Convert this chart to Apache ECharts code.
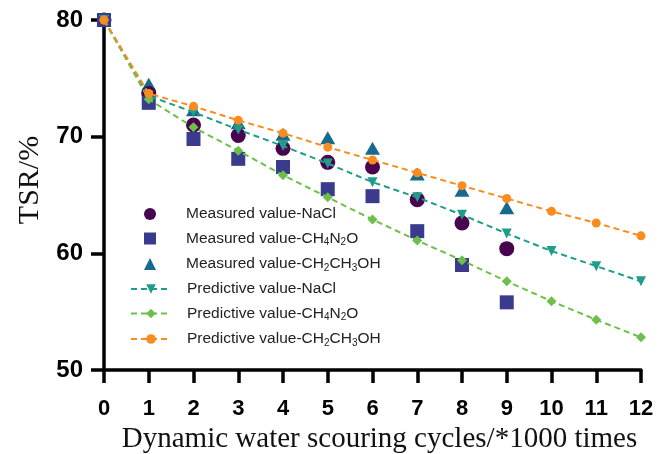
<!DOCTYPE html>
<html>
<head>
<meta charset="utf-8">
<script src="https://cdn.jsdelivr.net/npm/echarts@6/dist/echarts.min.js"></script>
<style>
  html, body { margin: 0; padding: 0; background: #fff; }
  #main { width: 670px; height: 454px; }
</style>
</head>
<body>
<div id="main"></div>
<script>
// cycles (*1000 times)
var cycles = [0, 1, 2, 3, 4, 5, 6, 7, 8, 9, 10, 11, 12];
var measuredCycles = [0, 1, 2, 3, 4, 5, 6, 7, 8, 9];

// measured TSR/%
var measNaCl   = [80, 73.7, 71.0, 70.1, 69.0, 67.8, 67.4, 64.6, 62.6, 60.4];
var measUrea   = [80, 72.9, 69.8, 68.1, 67.4, 65.5, 64.9, 61.9, 59.0, 55.8];
var measEthOH  = [80, 74.5, 72.3, 71.2, 70.2, 69.9, 69.0, 66.8, 65.4, 63.9];

// predictive TSR/%
var predNaCl   = [80, 73.5, 72.1, 70.6, 69.2, 67.7, 66.1, 64.8, 63.3, 61.7, 60.2, 58.9, 57.6];
var predUrea   = [80, 73.2, 70.8, 68.8, 66.7, 64.8, 62.9, 61.1, 59.4, 57.6, 55.9, 54.3, 52.8];
var predEthOH  = [80, 73.7, 72.6, 71.4, 70.3, 69.1, 68.0, 66.9, 65.8, 64.7, 63.6, 62.6, 61.5];

var yTicks = [50, 60, 70, 80];

function pairs(xs, ys) {
  return xs.map(function (x, i) { return [x, ys[i]]; });
}

// legend labels with subscripts
var labelMap = {
  'Measured value-NaCl': '{t|Measured value-NaCl}',
  'Measured value-CH4N2O': '{t|Measured value-CH}{s|4}{t|N}{s|2}{t|O}',
  'Measured value-CH2CH3OH': '{t|Measured value-CH}{s|2}{t|CH}{s|3}{t|OH}',
  'Predictive value-NaCl': '{t|Predictive value-NaCl}',
  'Predictive value-CH4N2O': '{t|Predictive value-CH}{s|4}{t|N}{s|2}{t|O}',
  'Predictive value-CH2CH3OH': '{t|Predictive value-CH}{s|2}{t|CH}{s|3}{t|OH}'
};

var legendRich = {
  t: { fontFamily: 'Liberation Sans, Arial', fontSize: 15.5, color: '#222' },
  s: { fontFamily: 'Liberation Sans, Arial', fontSize: 10, color: '#222', padding: [8, 0, 0, 0] }
};

var chart = echarts.init(document.getElementById('main'));

var axisStyle = {
  axisLine: { show: true, lineStyle: { color: '#000', width: 3.5 } },
  axisTick: { show: true, length: 13, lineStyle: { color: '#000', width: 3.5 } },
  splitLine: { show: false }
};

var option = {
  animation: false,
  backgroundColor: '#fff',
  grid: { left: 104, right: 29, top: 20, bottom: 84, outerBoundsMode: 'none' },
  legend: [
    {
      orient: 'vertical',
      left: 139,
      top: 201,
      itemGap: 8.5,
      itemWidth: 12,
      itemHeight: 12,
      data: ['Measured value-NaCl', 'Measured value-CH4N2O', 'Measured value-CH2CH3OH'],
      formatter: function (name) { return labelMap[name]; },
      textStyle: { padding: [0, 0, 0, 25], rich: legendRich }
    },
    {
      orient: 'vertical',
      left: 125,
      top: 276,
      itemGap: 8.5,
      itemWidth: 40,
      itemHeight: 12,
      data: ['Predictive value-NaCl', 'Predictive value-CH4N2O', 'Predictive value-CH2CH3OH'],
      formatter: function (name) { return labelMap[name]; },
      textStyle: { padding: [0, 0, 0, 11], rich: legendRich }
    }
  ],
  xAxis: Object.assign({
    type: 'value',
    min: 0,
    max: 12,
    interval: 1,
    name: 'Dynamic water scouring cycles/*1000 times',
    nameLocation: 'middle',
    nameGap: 55,
    nameTextStyle: {
      fontFamily: 'Liberation Serif, Times New Roman', fontSize: 29, color: '#111',
      padding: [0, 0, 0, 14]
    },
    axisLabel: {
      margin: 28,
      fontFamily: 'Liberation Sans, Arial',
      fontWeight: 'bold', fontSize: 22, color: '#000'
    }
  }, axisStyle),
  yAxis: Object.assign({
    type: 'value',
    min: yTicks[0],
    max: yTicks[yTicks.length - 1],
    interval: 10,
    name: 'TSR/%',
    nameLocation: 'middle',
    nameGap: 58,
    nameTextStyle: {
      fontFamily: 'Liberation Serif, Times New Roman', fontSize: 30, color: '#111',
      padding: [0, 0, 0, 30]
    },
    axisLabel: {
      margin: 21,
      fontFamily: 'Liberation Sans, Arial',
      fontWeight: 'bold', fontSize: 24, color: '#000'
    }
  }, axisStyle),
  series: [
    {
      name: 'Measured value-CH2CH3OH', type: 'scatter', symbol: 'triangle', symbolSize: [15, 13],
      itemStyle: { color: '#176a8c', opacity: 1 }, data: pairs(measuredCycles, measEthOH), z: 2
    },
    {
      name: 'Measured value-NaCl', type: 'scatter', symbol: 'circle', symbolSize: 15,
      itemStyle: { color: '#48044f', opacity: 1 }, data: pairs(measuredCycles, measNaCl), z: 2
    },
    {
      name: 'Measured value-CH4N2O', type: 'scatter', symbol: 'rect', symbolSize: 14,
      itemStyle: { color: '#3b3b8e', opacity: 1 }, data: pairs(measuredCycles, measUrea), z: 2
    },
    {
      name: 'Predictive value-NaCl', type: 'line', symbol: 'triangle', symbolRotate: 180, symbolSize: 10,
      showAllSymbol: true,
      itemStyle: { color: '#1e9e8a' }, lineStyle: { color: '#1e9e8a', width: 2, type: [6, 4] },
      data: pairs(cycles, predNaCl), z: 3
    },
    {
      name: 'Predictive value-CH4N2O', type: 'line', symbol: 'diamond', symbolSize: 10,
      showAllSymbol: true,
      itemStyle: { color: '#6cc04a' }, lineStyle: { color: '#6cc04a', width: 2, type: [6, 4] },
      data: pairs(cycles, predUrea), z: 3
    },
    {
      name: 'Predictive value-CH2CH3OH', type: 'line', symbol: 'circle', symbolSize: 9,
      showAllSymbol: true,
      itemStyle: { color: '#f98c1f' }, lineStyle: { color: '#f98c1f', width: 2, type: [6, 4] },
      data: pairs(cycles, predEthOH), z: 3
    }
  ]
};

chart.setOption(option);
</script>
</body>
</html>
